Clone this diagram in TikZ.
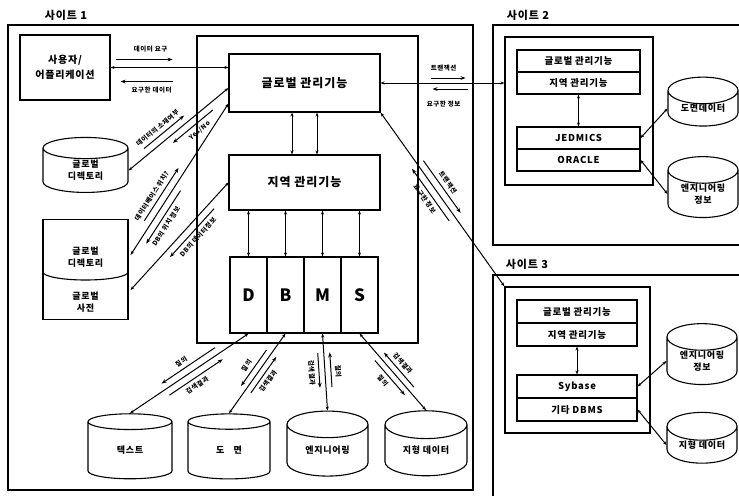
\documentclass[tikz,border=0pt]{standalone}
\usepackage{fontspec}
\setmainfont{Noto Sans CJK KR}[LetterSpace=8]
\usetikzlibrary{arrows.meta, positioning, shapes.geometric, calc}

\begin{document}
\begin{tikzpicture}[
  x=1pt, y=-1pt,
  frame/.style={draw, line width=1.1pt},
  box/.style={draw, line width=1.1pt, inner sep=0pt, align=center,
    font=\bfseries\fontsize{9.5}{11}\selectfont},
  bigbox/.style={box, minimum width=151pt, font=\bfseries\fontsize{12}{12}\selectfont},
  subbox/.style={box, minimum width=123pt, minimum height=22pt},
  cell/.style={draw, line width=1.1pt, minimum width=37pt, minimum height=76pt,
    inner sep=0pt, font=\bfseries\fontsize{17}{17}\selectfont},
  db/.style={draw, line width=1.1pt, cylinder, shape border rotate=90, aspect=0.6,
    inner sep=0pt, align=center, font=\bfseries\fontsize{9}{12}\selectfont},
  link/.style={line width=1pt, {Stealth[length=4pt]}-{Stealth[length=4pt]}},
  half/.style={line width=1pt, -{Stealth[length=5pt]}},
  lbl/.style={font=\bfseries\fontsize{6.5}{7}\selectfont, inner sep=1pt},
  sitelbl/.style={font=\bfseries\fontsize{11}{11}\selectfont}
]
  \useasboundingbox (0,0) rectangle (739,496);

  % site frames
  \node[sitelbl] (t1) at (66,15) {사이트 1};
  \node[sitelbl] (t2) at (528,15) {사이트 2};
  \node[sitelbl] (t3) at (527,264) {사이트 3};
  \draw[frame] (8,25) rectangle (473,490);
  \draw[frame] (739,25) -| (493,245) -- (739,245);
  \draw[frame] (739,275) -| (493,496);

  % site 1
  \node[frame, minimum width=221pt, minimum height=307pt] (core) at (307.5,189.5) {};
  \node[box, minimum width=90pt, minimum height=65pt,
    font=\bfseries\fontsize{10}{15}\selectfont] (user) at (65,67.5) {사용자/\\어플리케이션};
  \node[bigbox, minimum height=58pt] (glob) at (304.5,83) {글로벌 관리기능};
  \node[bigbox, minimum height=55pt] (local) at (304.5,182.5) {지역 관리기능};
  \node[cell] (cD) at (248.5,295) {D};
  \node[cell, right=-1.1pt of cD] (cB) {B};
  \node[cell, right=-1.1pt of cB] (cM) {M};
  \node[cell, right=-1.1pt of cM] (cS) {S};

  \draw[link] ($(glob.south)+(-12.5,0)$) -- ($(local.north)+(-12.5,0)$);
  \draw[link] ($(glob.south)+(12.5,0)$) -- ($(local.north)+(12.5,0)$);
  \foreach \c in {cD,cB,cM,cS}
    \draw[link] (local.south -| \c) -- (\c.north);

  % user <-> global
  \draw[link] (user.east) -- (user.east -| glob.west);
  \draw[half] ($(user.east)+(5,-8)$) -- +(57,0);
  \draw[half] ($(user.east)+(62,14)$) -- +(-52,0);
  \node[lbl] at ($(user.east)+(40,-18)$) {데이터 요구};
  \node[lbl] at ($(user.east)+(41,23)$) {요구한 데이터};

  % directory and dictionary
  \node[db, minimum width=85pt, minimum height=55pt] (gdir) at (85.5,170.5) {글로벌\\디렉토리};
  \node[db, minimum width=85pt, minimum height=100pt] (gdic) at (85.5,270) {};
  \draw[line width=1.1pt] ($(gdic.center)+(-42.5,2)$)
    arc[start angle=180, end angle=360, x radius=42.5pt, y radius=8pt];
  \node[db, draw=none] (gdicA) at (85.5,257) {글로벌\\디렉토리};
  \node[db, draw=none] (gdicB) at (85.5,302) {글로벌\\사전};

  \coordinate (g1) at ($(glob.west)+(0,5)$);
  \coordinate (g2) at ($(glob.south west)+(0,-9)$);
  \coordinate (p2) at ($(gdic.east)+(2,-15)$);
  \coordinate (p3) at ($(gdic.east)+(2,20)$);

  \draw[link] (gdir.east) -- (g1);
  \draw[half] ($(gdir.east)!.2!(g1)!7pt!90:(g1)$) -- ($(gdir.east)!.6!(g1)!7pt!90:(g1)$);
  \draw[half] ($(gdir.east)!.8!(g1)!7pt!-90:(g1)$) -- ($(gdir.east)!.4!(g1)!7pt!-90:(g1)$);
  \path (gdir.east) -- (g1)
    node[lbl, sloped, pos=.38, above=10pt] {데이터의 소재여부}
    node[lbl, sloped, pos=.62, below=10pt] {Yes/No};

  \draw[link] (p2) -- (g2);
  \draw[half] ($(p2)!.2!(g2)!7pt!90:(g2)$) -- ($(p2)!.55!(g2)!7pt!90:(g2)$);
  \draw[half] ($(p2)!.45!(g2)!7pt!-90:(g2)$) -- ($(p2)!.1!(g2)!7pt!-90:(g2)$);
  \path (p2) -- (g2)
    node[lbl, sloped, pos=.34, above=10pt] {데이터베이스 위치?}
    node[lbl, sloped, pos=.24, below=10pt] {DB의 위치 정보};

  \draw[link] (p3) -- (local.west);
  \draw[half] ($(p3)!.8!(local.west)!7pt!-90:(local.west)$) -- ($(p3)!.35!(local.west)!7pt!-90:(local.west)$);
  \path (p3) -- (local.west)
    node[lbl, sloped, pos=.58, below=10pt] {DB의 데이터정보};

  % data stores of site 1
  \node[db, minimum width=84pt, minimum height=65pt] (txt) at (130,450.5) {\raisebox{-6pt}{텍스트}};
  \node[db, minimum width=82pt, minimum height=65pt] (dwg) at (229,450.5) {\raisebox{-6pt}{도\quad 면}};
  \node[db, minimum width=81pt, minimum height=65pt] (eng) at (327.5,450.5) {\raisebox{-6pt}{엔지니어링}};
  \node[db, minimum width=82pt, minimum height=65pt] (geo) at (426,450.5) {\raisebox{-6pt}{지형 데이터}};

  \draw[link] (txt.top) -- (cD.south);
  \draw[half] ($(txt.top)!.75!(cD.south)!7pt!90:(cD.south)$) -- ($(txt.top)!.3!(cD.south)!7pt!90:(cD.south)$);
  \draw[half] ($(txt.top)!.3!(cD.south)!7pt!-90:(cD.south)$) -- ($(txt.top)!.75!(cD.south)!7pt!-90:(cD.south)$);
  \path (txt.top) -- (cD.south)
    node[lbl, sloped, pos=.5, above=10pt] {질의}
    node[lbl, sloped, pos=.5, below=10pt] {검색결과};

  \draw[link] (dwg.top) -- (cB.south);
  \draw[half] ($(dwg.top)!.75!(cB.south)!6pt!90:(cB.south)$) -- ($(dwg.top)!.3!(cB.south)!6pt!90:(cB.south)$);
  \draw[half] ($(dwg.top)!.3!(cB.south)!6pt!-90:(cB.south)$) -- ($(dwg.top)!.75!(cB.south)!6pt!-90:(cB.south)$);
  \path (dwg.top) -- (cB.south)
    node[lbl, sloped, pos=.5, above=9pt] {질의}
    node[lbl, sloped, pos=.5, below=9pt] {검색결과};

  \draw[link] (eng.top) -- (cM.south);
  \draw[half] ($(eng.top)!.75!(cM.south)!6pt!90:(cM.south)$) -- ($(eng.top)!.3!(cM.south)!6pt!90:(cM.south)$);
  \draw[half] ($(eng.top)!.3!(cM.south)!6pt!-90:(cM.south)$) -- ($(eng.top)!.75!(cM.south)!6pt!-90:(cM.south)$);
  \path (eng.top) -- (cM.south)
    node[lbl, sloped, pos=.5, above=9pt] {질의}
    node[lbl, sloped, pos=.5, below=9pt] {검색결과};

  \draw[link] (cS.south) -- (geo.top);
  \draw[half] ($(cS.south)!.75!(geo.top)!6pt!90:(geo.top)$) -- ($(cS.south)!.3!(geo.top)!6pt!90:(geo.top)$);
  \draw[half] ($(cS.south)!.3!(geo.top)!6pt!-90:(geo.top)$) -- ($(cS.south)!.75!(geo.top)!6pt!-90:(geo.top)$);
  \path (cS.south) -- (geo.top)
    node[lbl, sloped, pos=.5, above=9pt] {검색결과}
    node[lbl, sloped, pos=.5, below=9pt] {질의};

  % site 2
  \node[frame, minimum width=148pt, minimum height=148pt] (s2) at (579,111) {};
  \node[subbox] (s2g) at (578.5,61) {글로벌 관리기능};
  \node[subbox, below=-1.1pt of s2g] (s2l) {지역 관리기능};
  \node[subbox] (s2j) at (578.5,138) {JEDMICS};
  \node[subbox, below=-1.1pt of s2j] (s2o) {ORACLE};
  \draw[link] (s2l.south) -- (s2j.north);
  \node[db, minimum width=70pt, minimum height=47pt] (s2a) at (703,108.5) {도면데이터};
  \node[db, minimum width=70pt, minimum height=52pt] (s2b) at (703,194) {엔지니어링\\정보};
  \draw[link] (s2j.east) -- (s2a.west);
  \draw[link] (s2o.east) -- (s2b.west);

  \draw[link] (glob.east) -- (glob.east -| s2.west);
  \draw[half] ($(glob.east)+(50,-5)$) -- +(35,0);
  \draw[half] ($(glob.east)+(87,6)$) -- +(-35,0);
  \node[lbl] at ($(glob.east)+(63,-15)$) {트랜잭션};
  \node[lbl] at ($(glob.east)+(63,21)$) {요구한 정보};

  % site 3
  \node[frame, minimum width=145pt, minimum height=146pt] (s3) at (577.5,360) {};
  \node[subbox, minimum width=120pt, minimum height=23pt] (s3g) at (577,311.5) {글로벌 관리기능};
  \node[subbox, minimum width=120pt, minimum height=23pt, below=-1.1pt of s3g] (s3l) {지역 관리기능};
  \node[subbox, minimum width=120pt, minimum height=23pt] (s3s) at (577,386.5) {Sybase};
  \node[subbox, minimum width=120pt, minimum height=23pt, below=-1.1pt of s3s] (s3o) {기타 DBMS};
  \draw[link] (s3l.south) -- (s3s.north);
  \node[db, minimum width=70pt, minimum height=48pt] (s3a) at (702,361) {엔지니어링\\정보};
  \node[db, minimum width=70pt, minimum height=50pt] (s3b) at (702,445) {지형 데이터};
  \draw[link] (s3s.east) -- (s3a.west);
  \draw[link] (s3o.east) -- (s3b.west);

  \draw[link] (glob.south east) -- (s3.north west);
  \draw[half] ($(glob.south east)!.3!(s3.north west)!7pt!90:(s3.north west)$) -- ($(glob.south east)!.6!(s3.north west)!7pt!90:(s3.north west)$);
  \draw[half] ($(glob.south east)!.6!(s3.north west)!7pt!-90:(s3.north west)$) -- ($(glob.south east)!.3!(s3.north west)!7pt!-90:(s3.north west)$);
  \path (glob.south east) -- (s3.north west)
    node[lbl, sloped, pos=.45, above=10pt] {트랜잭션}
    node[lbl, sloped, pos=.45, below=10pt] {요구한 정보};
\end{tikzpicture}
\end{document}
